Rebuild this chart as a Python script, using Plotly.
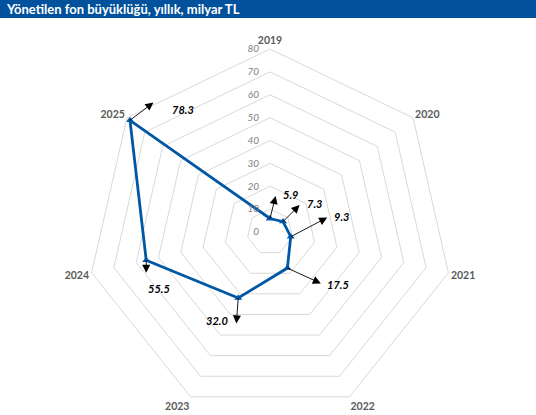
import math
import plotly.graph_objects as go

years = ["2019", "2020", "2021", "2022", "2023", "2024", "2025"]
fund_size = [5.9, 7.3, 9.3, 17.5, 32.0, 55.5, 78.3]
label_text = ["5.9", "7.3", "9.3", "17.5", "32.0", "55.5", "78.3"]
radial_ticks = [0, 10, 20, 30, 40, 50, 60, 70, 80]

# arrow tip offset from the point, then label offset from the tip (pixels, y down)
arrow_offsets = [(6, -24), (18, -18), (38, -20), (35, 16), (-2, 27), (0, 14), (25, -19)]
label_offsets = [(14, 0), (13, 0), (13, 0), (16, 0), (-19, 4), (0, 14), (15, 0)]

W, H = 536, 415
CX, CY, R = 270, 232, 183
R_MAX = 80
BLUE = "#0057A6"
FONT = "Lato"

fig = go.Figure()
fig.add_trace(go.Scatterpolar(
    r=fund_size + fund_size[:1],
    theta=years + years[:1],
    mode="lines+markers",
    line=dict(color=BLUE, width=2.8),
    marker=dict(symbol="triangle-up", size=7, color=BLUE),
    hoverinfo="skip",
    showlegend=False,
))


def to_paper(i, r):
    a = math.radians(i * 360 / len(years))
    px = CX + r / R_MAX * R * math.sin(a)
    py = CY - r / R_MAX * R * math.cos(a)
    return px / W, 1 - py / H


for i, v in enumerate(fund_size):
    x, y = to_paper(i, v)
    dx, dy = arrow_offsets[i]
    lx, ly = label_offsets[i]
    fig.add_annotation(
        x=x, y=y, xref="paper", yref="paper",
        ax=dx, ay=dy, axref="pixel", ayref="pixel",
        text="", showarrow=True, arrowside="start",
        startarrowhead=2, startarrowsize=1.8, arrowwidth=0.9, arrowcolor="black",
    )
    fig.add_annotation(
        x=x, y=y, xref="paper", yref="paper",
        xshift=dx + lx, yshift=-(dy + ly),
        text=label_text[i], showarrow=False,
        font=dict(family=FONT, size=11, color="black", weight="bold", style="italic"),
    )

# title bar
fig.add_shape(type="rect", xref="paper", yref="paper",
              x0=0, x1=1, y0=1 - 18 / H, y1=1,
              fillcolor="#01519C", line_width=0, layer="below")
fig.add_annotation(x=4 / W, y=1 - 9 / H, xref="paper", yref="paper",
                   xanchor="left", yanchor="middle", showarrow=False,
                   text="Yönetilen fon büyüklüğü, yıllık, milyar TL",
                   font=dict(family=FONT, size=13, color="white", weight="bold"))

fig.update_layout(
    width=W, height=H,
    margin=dict(l=0, r=0, t=0, b=0),
    paper_bgcolor="white",
    font=dict(family=FONT),
    polar=dict(
        bgcolor="white",
        gridshape="linear",
        domain=dict(x=[(CX - R) / W, (CX + R) / W], y=[(H - CY - R) / H, (H - CY + R) / H]),
        radialaxis=dict(
            range=[0, R_MAX], tickvals=radial_ticks, angle=90, side="counterclockwise",
            showline=False, ticks="outside", ticklen=7, tickcolor="rgba(0,0,0,0)",
            gridcolor="#D9D9D9", gridwidth=1,
            tickangle=90,
            tickfont=dict(family=FONT, size=10, color="#7F7F7F", style="italic"),
        ),
        angularaxis=dict(
            type="category", categoryarray=years, direction="clockwise", rotation=90,
            showgrid=False, showline=True, linecolor="#D9D9D9", linewidth=1, ticks="",
            tickfont=dict(family=FONT, size=10.5, color="#595959", weight="bold"),
        ),
    ),
)

fig.write_html("out.html", config={"displayModeBar": False},
               post_script="document.body.style.margin='0';")
